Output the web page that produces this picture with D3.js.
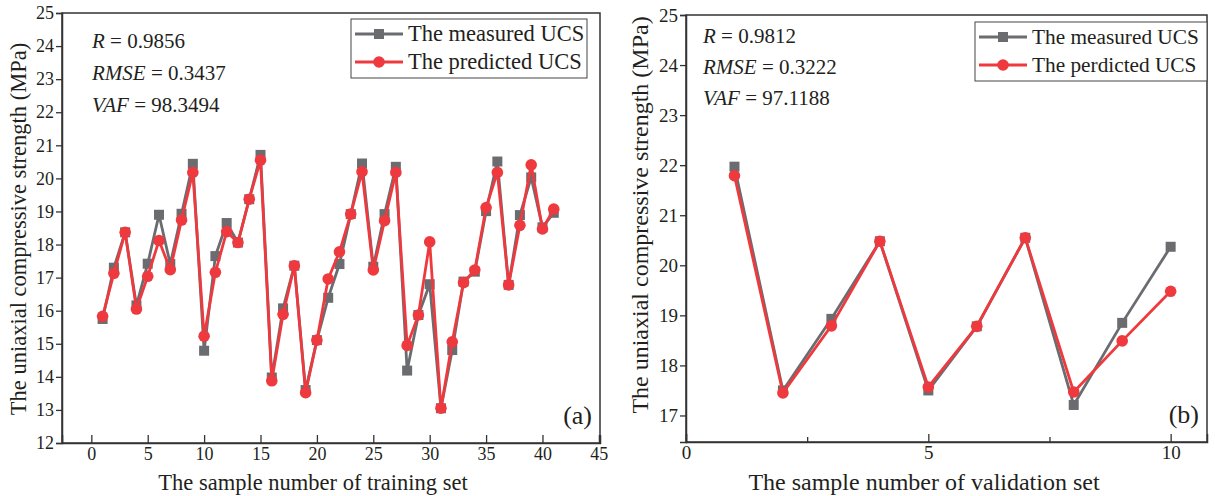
<!DOCTYPE html>
<html>
<head>
<meta charset="utf-8">
<script src="https://cdn.jsdelivr.net/npm/d3@7"></script>
<style>
  body { margin: 0; background: #fff; }
  svg text { font-family: "Liberation Serif", "Times New Roman", Tinos, "DejaVu Serif", serif; }
</style>
</head>
<body>
<div id="chart"></div>
<script>
// training set (a)
const trainIndex = d3.range(1, 42);
const trainMeasured = [15.75, 17.30, 18.37, 16.16, 17.42, 18.90, 17.41, 18.93, 20.44, 14.79,
  17.65, 18.65, 18.06, 19.37, 20.71, 13.98, 16.07, 17.36, 13.60, 15.11,
  16.39, 17.41, 18.92, 20.45, 17.33, 18.92, 20.35, 14.19, 15.87, 16.80,
  13.05, 14.81, 16.88, 17.18, 19.01, 20.51, 16.78, 18.89, 20.03, 18.52, 18.96];
const trainPredicted = [15.83, 17.13, 18.37, 16.05, 17.04, 18.12, 17.24, 18.74, 20.18, 15.23,
  17.16, 18.39, 18.06, 19.37, 20.55, 13.88, 15.89, 17.36, 13.52, 15.11,
  16.96, 17.78, 18.92, 20.20, 17.23, 18.72, 20.18, 14.95, 15.87, 18.08,
  13.05, 15.06, 16.85, 17.23, 19.12, 20.18, 16.78, 18.58, 20.41, 18.47, 19.07];
const trainTicksX = d3.range(0, 46, 5);
const trainTicksY = d3.range(12, 26, 1);

// validation set (b)
const valIndex = d3.range(1, 11);
const valMeasured = [21.97, 17.50, 18.93, 20.48, 17.50, 18.78, 20.55, 17.21, 18.85, 20.37];
const valPredicted = [21.79, 17.45, 18.79, 20.48, 17.57, 18.78, 20.55, 17.47, 18.49, 19.48];
const valTicksX = [0, 5, 10];
const valMinorX = [2.5, 7.5];
const valTicksY = d3.range(17, 26, 1);

const statsA = [["R", "0.9856"], ["RMSE", "0.3437"], ["VAF", "98.3494"]];
const statsB = [["R", "0.9812"], ["RMSE", "0.3222"], ["VAF", "97.1188"]];

const grey = "#6b6c70";
const red = "#ee3a3f";
const ink = "#231f20";
const serif = '"Liberation Serif", "Times New Roman", Tinos, "DejaVu Serif", serif';

const svg = d3.select("#chart").append("svg")
  .attr("width", 1215).attr("height", 496)
  .attr("font-family", serif);

function drawPanel(p) {
  const x = d3.scaleLinear().domain(p.xDomain).range([p.left, p.right]);
  const y = d3.scaleLinear().domain(p.yDomain).range([p.bottom, p.top]);
  const g = svg.append("g");

  // frame
  g.append("rect")
    .attr("x", p.left).attr("y", p.top)
    .attr("width", p.right - p.left).attr("height", p.bottom - p.top)
    .attr("fill", "none").attr("stroke", "#333").attr("stroke-width", 1.5);

  // x axis, ticks pointing in
  const xa = g.append("g").attr("transform", `translate(0,${p.bottom})`)
    .call(d3.axisBottom(x).tickValues(p.xTicks).tickSize(-8).tickPadding(4).tickFormat(d3.format("d")));
  xa.attr("font-family", serif);
  xa.select(".domain").attr("stroke", "#333").attr("stroke-width", 1.5);
  xa.selectAll(".tick line").attr("stroke", "#333").attr("stroke-width", 1.3);
  xa.selectAll("text").attr("font-size", p.tickFont).attr("fill", ink);
  if (p.xMinor) {
    g.append("g").attr("transform", `translate(0,${p.bottom})`)
      .call(d3.axisBottom(x).tickValues(p.xMinor).tickSize(-5).tickFormat(""))
      .call(a => a.select(".domain").remove())
      .selectAll(".tick line").attr("stroke", "#333").attr("stroke-width", 1.3);
  }

  // y axis, ticks pointing out
  const ya = g.append("g").attr("transform", `translate(${p.left},0)`)
    .call(d3.axisLeft(y).tickValues(p.yTicks).tickSize(6).tickPadding(2).tickFormat(d3.format("d")));
  ya.attr("font-family", serif);
  ya.select(".domain").attr("stroke", "#333").attr("stroke-width", 1.5);
  ya.selectAll(".tick line").attr("stroke", "#333").attr("stroke-width", 1.3);
  ya.selectAll("text").attr("font-size", p.tickFont).attr("fill", ink);

  // axis titles
  g.append("text")
    .attr("x", p.xTitleX).attr("y", 490)
    .attr("text-anchor", "middle").attr("font-size", p.titleFont).attr("fill", ink)
    .text(p.xTitle);
  g.append("text")
    .attr("transform", `translate(${p.yTitleX},${p.yTitleY}) rotate(-90)`)
    .attr("text-anchor", "middle").attr("font-size", p.titleFont).attr("fill", ink)
    .text("The uniaxial compressive strength (MPa)");

  // series
  const line = d3.line().x(d => x(d[0])).y(d => y(d[1]));
  const meas = p.index.map((d, i) => [d, p.measured[i]]);
  const pred = p.index.map((d, i) => [d, p.predicted[i]]);

  g.append("path").datum(meas).attr("d", line)
    .attr("fill", "none").attr("stroke", grey).attr("stroke-width", 2.8);
  g.selectAll(".sq").data(meas).enter().append("rect")
    .attr("x", d => x(d[0]) - 5).attr("y", d => y(d[1]) - 5)
    .attr("width", 10).attr("height", 10).attr("fill", grey);

  g.append("path").datum(pred).attr("d", line)
    .attr("fill", "none").attr("stroke", red).attr("stroke-width", 2.8);
  g.selectAll(".ci").data(pred).enter().append("circle")
    .attr("cx", d => x(d[0])).attr("cy", d => y(d[1]))
    .attr("r", 5.8).attr("fill", red);

  // stats text
  p.stats.forEach((s, i) => {
    const t = g.append("text")
      .attr("x", p.statsX).attr("y", p.statsY + i * p.statsGap)
      .attr("font-size", 21).attr("fill", ink);
    t.append("tspan").attr("font-style", "italic").text(s[0]);
    t.append("tspan").text(" = " + s[1]);
  });

  // legend
  const L = p.legend;
  g.append("rect").attr("x", L.x).attr("y", L.y).attr("width", L.w).attr("height", L.h)
    .attr("fill", "#fff").attr("stroke", "#444").attr("stroke-width", 1);
  [[p.legendLabels[0], grey, "sq"], [p.legendLabels[1], red, "ci"]].forEach((e, i) => {
    const cy = L.y + 15 + i * 28;
    g.append("line").attr("x1", L.x + 4).attr("x2", L.x + 52).attr("y1", cy).attr("y2", cy)
      .attr("stroke", e[1]).attr("stroke-width", 2.8);
    if (e[2] === "sq") {
      g.append("rect").attr("x", L.x + 23).attr("y", cy - 5).attr("width", 10).attr("height", 10).attr("fill", e[1]);
    } else {
      g.append("circle").attr("cx", L.x + 28).attr("cy", cy).attr("r", 5.8).attr("fill", e[1]);
    }
    g.append("text").attr("x", L.x + 57).attr("y", cy + 7)
      .attr("font-size", L.font).attr("fill", ink).text(e[0]);
  });

  // panel tag
  g.append("text").attr("x", p.right - 8).attr("y", p.bottom - 19)
    .attr("text-anchor", "end").attr("font-size", 26).attr("fill", ink).text(p.tag);
}

drawPanel({
  left: 62, right: 600, top: 13, bottom: 443,
  xDomain: [-2.6, 45.1], yDomain: [12, 25],
  xTicks: trainTicksX, yTicks: trainTicksY, tickFont: 18,
  index: trainIndex, measured: trainMeasured, predicted: trainPredicted,
  xTitle: "The sample number of training set", xTitleX: 313,
  yTitleX: 26, yTitleY: 229, titleFont: 22.5,
  stats: statsA, statsX: 92, statsY: 48, statsGap: 32,
  legend: { x: 351, y: 19, w: 236, h: 59, font: 22.5 },
  legendLabels: ["The measured UCS", "The predicted UCS"],
  tag: "(a)"
});

drawPanel({
  left: 686, right: 1207, top: 15, bottom: 442,
  xDomain: [0, 10.75], yDomain: [16.47, 25],
  xTicks: valTicksX, xMinor: valMinorX, yTicks: valTicksY, tickFont: 19,
  index: valIndex, measured: valMeasured, predicted: valPredicted,
  xTitle: "The sample number of validation set", xTitleX: 924,
  yTitleX: 648, yTitleY: 215, titleFont: 24,
  stats: statsB, statsX: 703, statsY: 43, statsGap: 31,
  legend: { x: 975, y: 22, w: 232, h: 59, font: 21.3 },
  legendLabels: ["The measured UCS", "The perdicted UCS"],
  tag: "(b)"
});
</script>
</body>
</html>
